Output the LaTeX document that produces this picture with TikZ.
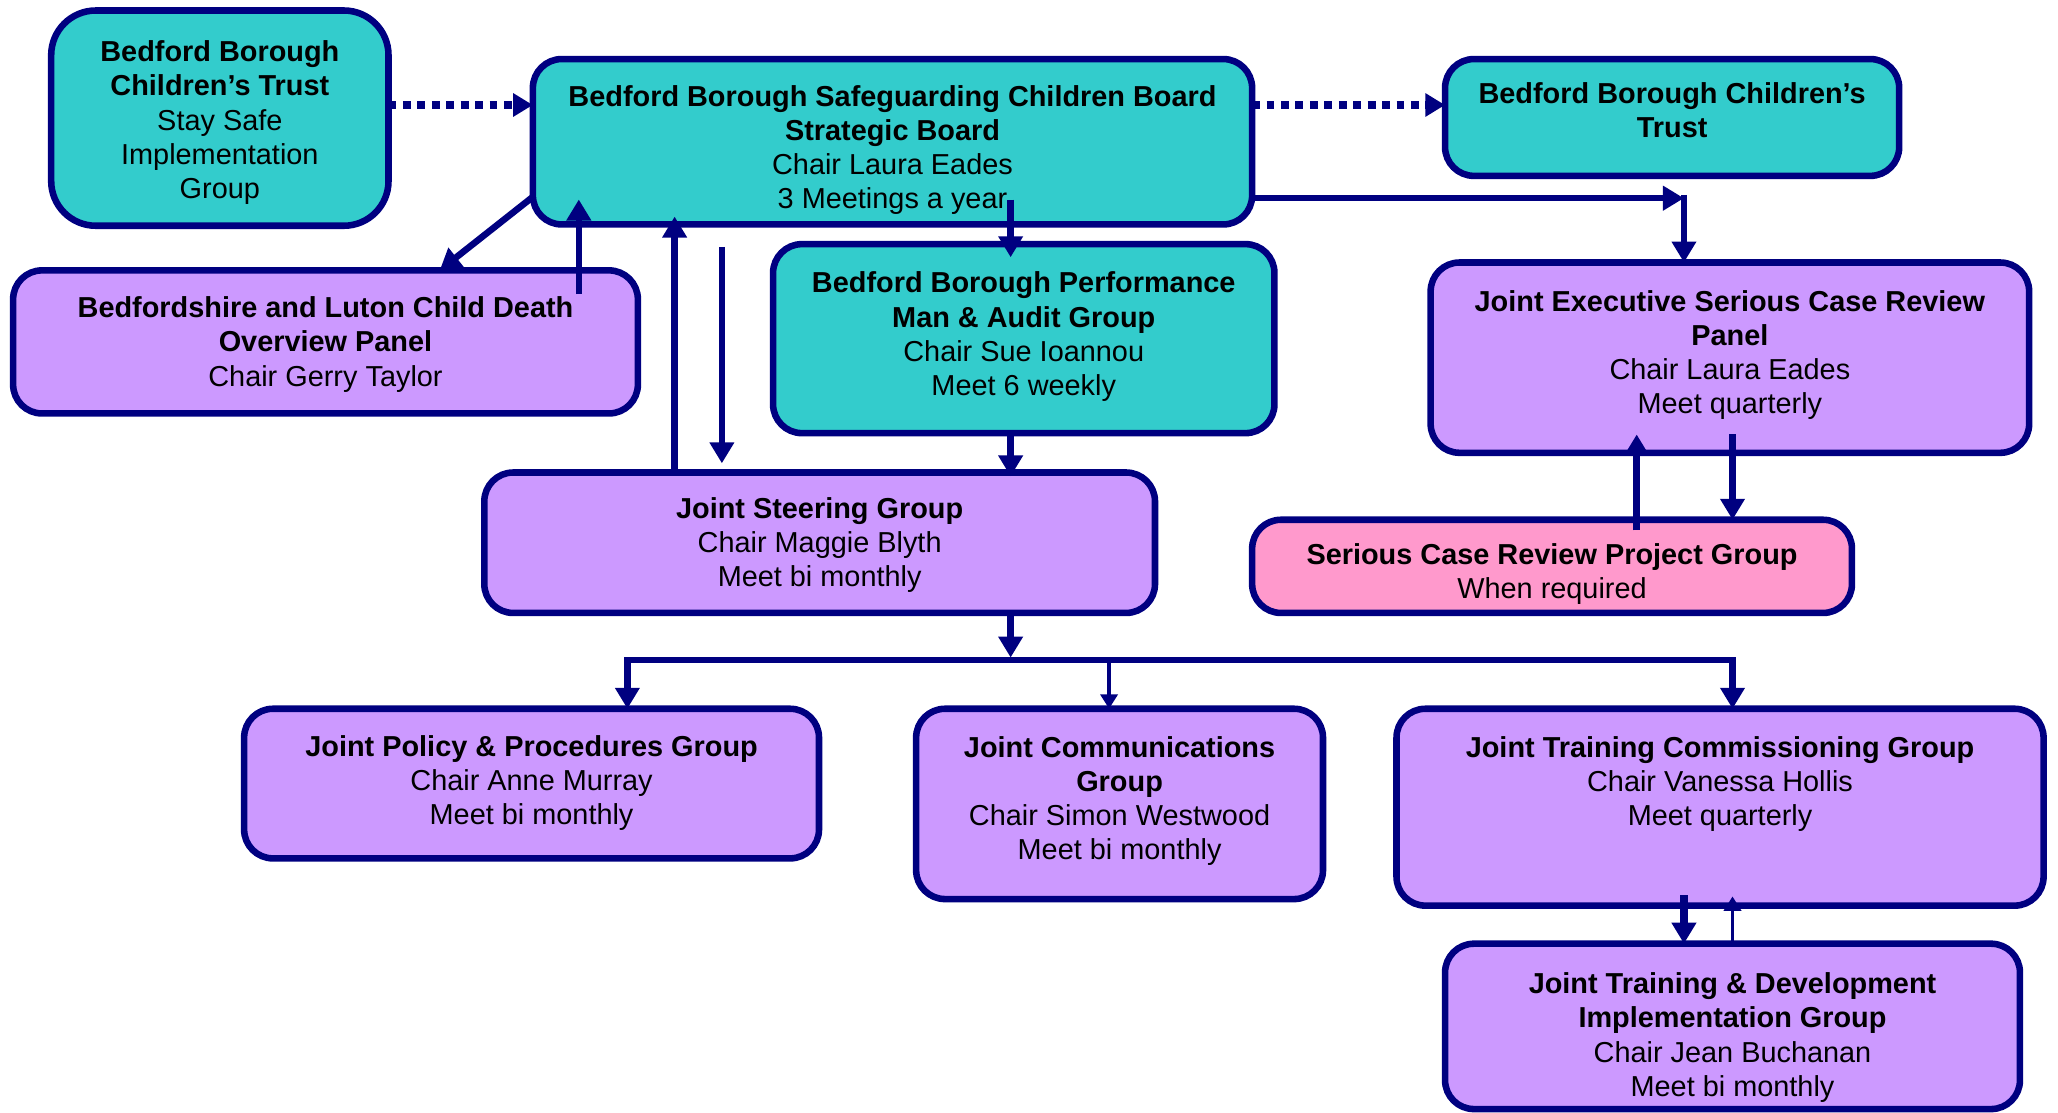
\documentclass[tikz,border=0pt]{standalone}
\usepackage{fontspec}
\setmainfont{Liberation Sans}
\usetikzlibrary{arrows.meta,calc}
\definecolor{navyc}{HTML}{000080}
\definecolor{tealc}{HTML}{33CCCC}
\definecolor{purplec}{HTML}{CC99FF}
\definecolor{pinkc}{HTML}{FF99CC}
\tikzset{
 boxst/.style={draw=navyc, line width=5pt, rounded corners=22pt, inner sep=0pt, outer sep=0pt},
 txt/.style={align=center, inner sep=0pt, font=\fontsize{22}{26}\selectfont, anchor=north, text=black},
 arr/.style={draw=navyc, line width=5pt, -{Triangle[length=16pt,width=18pt]}},
 thinarr/.style={draw=navyc, line width=3pt, -{Triangle[length=11pt,width=13pt]}},
 dotarr/.style={draw=navyc, line width=6pt, dash pattern=on 6pt off 5pt, -{Triangle[length=15pt,width=17pt]}},
}
\newcommand\orgbox[7]{\node[boxst, fill=#6, #7, minimum width={#4pt-#2pt}, minimum height={#5pt-#3pt}] (#1) at ({(#2+#4)/2},{(#3+#5)/2}) {};}
\begin{document}
\begin{tikzpicture}[x=1pt,y=-1pt]
\useasboundingbox (0,0) rectangle (1568,848);
% boxes
\orgbox{A}{39}{8}{296}{172}{tealc}{rounded corners=34pt}
\orgbox{B}{406}{45}{954}{171}{tealc}{}
\orgbox{C}{1101}{45}{1447}{134}{tealc}{}
\orgbox{D}{10}{206}{486}{315}{purplec}{}
\orgbox{E}{589}{186}{971}{330}{tealc}{}
\orgbox{F}{1090}{200}{1546}{345}{purplec}{}
\orgbox{G}{369}{360}{880}{467}{purplec}{}
\orgbox{H}{954}{396}{1411}{467}{pinkc}{}
\orgbox{I}{186}{540}{624}{654}{purplec}{}
\orgbox{J}{698}{540}{1008}{685}{purplec}{}
\orgbox{K}{1064}{540}{1557}{690}{purplec}{}
\orgbox{L}{1101}{719}{1539}{845}{purplec}{}
% texts
\node[txt] (At) at ([yshift=-23pt]A.north) {\textbf{Bedford Borough}\\\textbf{Children’s Trust}\\Stay Safe\\Implementation\\Group};
\node[txt] (Bt) at ([yshift=-20pt]B.north) {\textbf{Bedford Borough Safeguarding Children Board}\\\textbf{Strategic Board}\\Chair Laura Eades\\3 Meetings a year};
\node[txt] (Ct) at ([yshift=-18pt]C.north) {\textbf{Bedford Borough Children’s}\\\textbf{Trust}};
\node[txt] (Dt) at ([yshift=-20pt]D.north) {\textbf{Bedfordshire and Luton Child Death}\\\textbf{Overview Panel}\\Chair Gerry Taylor};
\node[txt] (Et) at ([yshift=-21pt]E.north) {\textbf{Bedford Borough Performance}\\\textbf{Man \& Audit Group}\\Chair Sue Ioannou\\Meet 6 weekly};
\node[txt] (Ft) at ([yshift=-21pt]F.north) {\textbf{Joint Executive Serious Case Review}\\\textbf{Panel}\\Chair Laura Eades\\Meet quarterly};
\node[txt] (Gt) at ([yshift=-19pt]G.north) {\textbf{Joint Steering Group}\\Chair Maggie Blyth\\Meet bi monthly};
\node[txt] (Ht) at ([yshift=-18pt]H.north) {\textbf{Serious Case Review Project Group}\\When required};
\node[txt] (It) at ([yshift=-20pt]I.north) {\textbf{Joint Policy \& Procedures Group}\\Chair Anne Murray\\Meet bi monthly};
\node[txt] (Jt) at ([yshift=-21pt]J.north) {\textbf{Joint Communications}\\\textbf{Group}\\Chair Simon Westwood\\Meet bi monthly};
\node[txt] (Kt) at ([yshift=-21pt]K.north) {\textbf{Joint Training Commissioning Group}\\Chair Vanessa Hollis\\Meet quarterly};
\node[txt] (Lt) at ([yshift=-22pt]L.north) {\textbf{Joint Training \& Development}\\\textbf{Implementation Group}\\Chair Jean Buchanan\\Meet bi monthly};
% connectors
\draw[dotarr] (A.east |- 0,80) -- (B.west |- 0,80);
\draw[dotarr] (B.east |- 0,80) -- (C.west |- 0,80);
\draw[arr] (B.west |- 0,150) -- (D.north -| 335,0);
\draw[arr] ($(D.north -| 441,0)+(0,18)$) -- ($(B.south -| 441,0)+(0,-19)$);
\draw[arr] (G.north -| 514,0) -- ($(B.south -| 514,0)+(0,-6)$);
\coordinate (fb) at (550,188);
\draw[arr] (fb) -- ($(G.north -| fb)+(0,-7)$);
\draw[arr] ($(B.south -| 770,0)+(0,-19)$) -- ($(E.north -| 770,0)+(0,10)$);
\draw[arr] (E.south -| 770,0) -- ($(G.north -| 770,0)+(0,3)$);
\coordinate (busM) at (770,503);
\coordinate (busL) at (478,503);
\coordinate (busJ) at (845,503);
\coordinate (busR) at (1320,503);
\draw[arr] (G.south -| busM) -- ($(busM)+(0,-2)$);
\draw[arr] (busM) -| (I.north -| busL);
\draw[arr] (busM) -| (K.north -| busR);
\draw[thinarr] (busJ) -- (J.north -| busJ);
\coordinate (bend) at (1283,151);
\draw[arr] (B.east |- bend) -- (bend);
\draw[arr] ([yshift=2.5pt]bend) -- (F.north -| bend);
\draw[arr] ($(H.north -| 1247,0)+(0,8)$) -- ($(F.south -| 1247,0)+(0,-14)$);
\draw[arr] ($(F.south -| 1320,0)+(0,-14)$) -- (H.north -| 1320,0);
\draw[arr, line width=6pt] ($(K.south -| 1283,0)+(0,-8)$) -- (L.north -| 1283,0);
\draw[thinarr] (L.north -| 1320,0) -- ($(K.south -| 1320,0)+(0,-7)$);
\end{tikzpicture}
\end{document}
